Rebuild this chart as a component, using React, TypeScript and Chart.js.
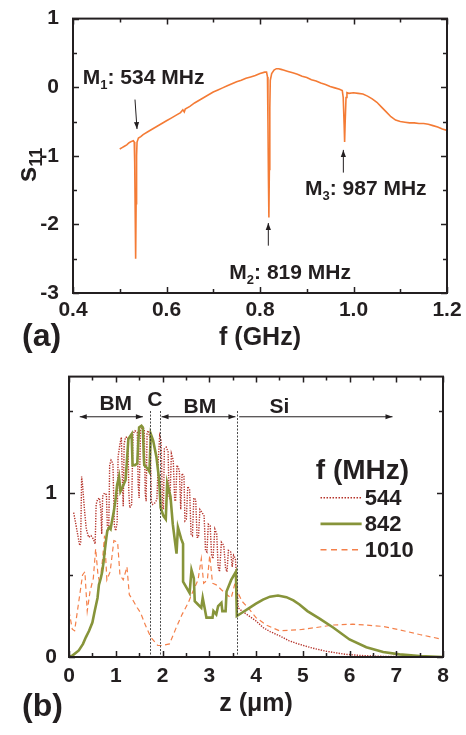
import React, { useEffect, useRef } from "react";
import { Chart, registerables } from "chart.js";
Chart.register(...registerables);

const FONT = '"Liberation Sans", Arial, Helvetica, sans-serif';
const INK = "#231f20";

// ---------- Panel (a): S11 vs f ----------
const freqA = [
  0.5, 0.505, 0.51, 0.515, 0.52, 0.525, 0.529, 0.531, 0.532, 0.533, 0.534, 0.535, 0.536, 0.537,
  0.54, 0.545, 0.55, 0.56, 0.57, 0.58, 0.59, 0.6, 0.61, 0.62, 0.63, 0.635, 0.638, 0.64, 0.65,
  0.66, 0.67, 0.68, 0.69, 0.7, 0.71, 0.72, 0.73, 0.74, 0.75, 0.76, 0.77, 0.78, 0.79, 0.8, 0.81,
  0.814, 0.816, 0.817, 0.818, 0.819, 0.82, 0.821, 0.822, 0.825, 0.83, 0.835, 0.84, 0.845, 0.85,
  0.86, 0.87, 0.88, 0.89, 0.9, 0.91, 0.92, 0.93, 0.94, 0.95, 0.96, 0.97, 0.976, 0.978, 0.98,
  0.981, 0.982, 0.984, 0.986, 0.99, 1.0, 1.01, 1.02, 1.03, 1.04, 1.05, 1.06, 1.07, 1.08, 1.09,
  1.1, 1.11, 1.12, 1.13, 1.14, 1.15, 1.16, 1.17, 1.18, 1.19, 1.2,
];
const s11A = [
  -0.9, -0.88, -0.86, -0.84, -0.81, -0.79, -0.78, -0.8, -1.1, -1.8, -2.5, -1.7, -1.0, -0.8,
  -0.74, -0.72, -0.69, -0.65, -0.61, -0.57, -0.53, -0.49, -0.45, -0.41, -0.37, -0.33, -0.36, -0.32, -0.28,
  -0.23, -0.19, -0.15, -0.11, -0.07, -0.04, -0.01, 0.02, 0.05, 0.08, 0.1, 0.13, 0.15, 0.17, 0.2, 0.22,
  0.22, 0.15, -0.5, -1.3, -1.9, -1.2, -0.3, 0.1, 0.2, 0.25, 0.27, 0.27, 0.26, 0.25,
  0.23, 0.21, 0.19, 0.16, 0.14, 0.11, 0.09, 0.06, 0.04, 0.01, -0.01, -0.03, -0.05, -0.15, -0.55,
  -0.8, -0.55, -0.15, -0.08, -0.09, -0.08, -0.09, -0.1, -0.13, -0.17, -0.22, -0.29, -0.36, -0.43, -0.48,
  -0.5, -0.51, -0.52, -0.52, -0.53, -0.53, -0.54, -0.56, -0.58, -0.61, -0.63,
];
const fMajor = [0.4, 0.6, 0.8, 1.0, 1.2];
const fMinor = [0.5, 0.7, 0.9, 1.1];
const sMajor = [-3, -2, -1, 0, 1];
const sMinor = [-2.5, -1.5, -0.5, 0.5];
const markerIdx = ["1", "2", "3"];
const markerMHz = [534, 819, 987];

// ---------- Panel (b): e_a vs z ----------
const zMajor = [0, 1, 2, 3, 4, 5, 6, 7, 8];
const zMinor = [0.5, 1.5, 2.5, 3.5, 4.5, 5.5, 6.5, 7.5];
const eMajor = [0, 1];
const eMinor = [0.5, 1.5];
const legendMHz = ["544", "842", "1010"];
const layerBounds = [1.73, 1.94, 3.59];
const layerNames = ["BM", "C", "BM", "Si"];

const z544 = [
  0.1, 0.14, 0.19, 0.23, 0.25, 0.27, 0.29, 0.33, 0.37, 0.42, 0.47, 0.52, 0.56, 0.58, 0.61, 0.65,
  0.68, 0.7, 0.72, 0.76, 0.8, 0.82, 0.85, 0.87, 0.9, 0.94, 0.97, 1.0, 1.03, 1.05, 1.09, 1.12,
  1.14, 1.16, 1.18, 1.21, 1.26, 1.28, 1.3, 1.34, 1.37, 1.41, 1.46, 1.48, 1.5, 1.53, 1.57, 1.61,
  1.63, 1.65, 1.67, 1.7, 1.74, 1.76, 1.79, 1.84, 1.88, 1.91, 1.94, 1.97, 2.0, 2.02, 2.04, 2.08,
  2.12, 2.14, 2.16, 2.19, 2.23, 2.26, 2.28, 2.31, 2.36, 2.39, 2.42, 2.46, 2.48, 2.51, 2.54, 2.58,
  2.61, 2.64, 2.67, 2.71, 2.74, 2.77, 2.8, 2.85, 2.89, 2.92, 2.95, 2.98, 3.02, 3.05, 3.08, 3.12,
  3.16, 3.19, 3.22, 3.26, 3.31, 3.35, 3.38, 3.41, 3.46, 3.49, 3.52, 3.56, 3.59, 3.62, 3.7, 3.8,
  3.9, 4.0, 4.15, 4.3, 4.5, 4.7, 4.9, 5.2, 5.5, 5.9, 6.3, 6.7, 7.2, 8.0,
];
const e544 = [
  0.88, 0.82, 0.74, 0.68, 0.7, 1.1, 1.05, 0.9, 0.78, 0.73, 0.74, 0.72, 0.69, 0.93, 0.96, 0.97,
  0.9, 0.75, 0.98, 1.0, 0.99, 0.8, 0.78, 1.17, 1.2, 1.18, 0.8, 0.77, 0.82, 1.22, 1.3, 1.34,
  1.1, 0.92, 1.3, 1.34, 1.34, 1.0, 0.91, 0.93, 1.36, 1.38, 1.37, 1.05, 0.97, 1.38, 1.4, 1.39,
  1.0, 0.95, 1.37, 1.38, 1.32, 0.95, 0.93, 0.94, 0.96, 1.2, 1.35, 1.32, 0.92, 0.9, 1.27, 1.28,
  1.25, 0.98, 0.96, 1.24, 1.2, 0.96, 0.95, 1.17, 1.14, 0.9, 1.12, 1.1, 0.83, 0.84, 1.04, 1.02,
  0.75, 0.74, 0.97, 0.96, 0.73, 0.73, 0.9, 0.88, 0.86, 0.65, 0.64, 0.81, 0.8, 0.62, 0.6, 0.78,
  0.75, 0.55, 0.52, 0.7, 0.68, 0.54, 0.52, 0.65, 0.64, 0.55, 0.62, 0.6, 0.45, 0.3, 0.28, 0.26,
  0.24, 0.22, 0.18, 0.155, 0.13, 0.1, 0.08, 0.055, 0.035, 0.017, 0.008, 0.004, 0.002, 0.0,
];

const z842 = [
  0.0, 0.08, 0.21, 0.3, 0.36, 0.43, 0.5, 0.55, 0.61, 0.64, 0.68, 0.71, 0.74, 0.77, 0.8, 0.82,
  0.86, 0.89, 0.92, 0.96, 1.0, 1.03, 1.07, 1.1, 1.15, 1.21, 1.24, 1.27, 1.34, 1.36, 1.41, 1.46,
  1.48, 1.5, 1.55, 1.58, 1.6, 1.61, 1.68, 1.72, 1.75, 1.8, 1.87, 1.92, 1.94, 1.96, 2.02, 2.07,
  2.1, 2.17, 2.22, 2.3, 2.33, 2.4, 2.44, 2.44, 2.52, 2.58, 2.62, 2.67, 2.69, 2.76, 2.83, 2.86,
  2.9, 2.94, 3.0, 3.07, 3.09, 3.15, 3.19, 3.26, 3.28, 3.35, 3.37, 3.47, 3.57, 3.59, 3.7, 3.86,
  4.0, 4.15, 4.3, 4.47, 4.65, 4.8, 4.93, 5.1, 5.36, 5.65, 6.0, 6.36, 6.72, 7.07, 7.5, 8.0,
];
const e842 = [
  0.0, 0.01, 0.04, 0.08, 0.12, 0.16, 0.21, 0.28, 0.36, 0.44, 0.48, 0.52, 0.58, 0.66, 0.73, 0.77,
  0.79, 0.78, 0.83, 0.89, 0.97, 1.05, 1.1, 1.01, 1.04, 1.08, 1.2, 1.33, 1.36, 1.17, 1.17, 1.18,
  1.3, 1.4, 1.41, 1.4, 1.22, 1.17, 1.15, 1.13, 1.36, 1.32, 1.22, 1.1, 1.02, 0.91, 0.86, 0.84,
  1.06, 0.98, 0.81, 0.63, 0.79, 0.72, 0.69, 0.46, 0.42, 0.39, 0.53, 0.48, 0.34, 0.32, 0.3, 0.36,
  0.3, 0.24, 0.24, 0.24, 0.28, 0.26, 0.31, 0.33, 0.28, 0.28, 0.4, 0.47, 0.52, 0.25, 0.27, 0.3,
  0.325, 0.35, 0.368, 0.375, 0.365, 0.345, 0.32, 0.28, 0.234, 0.18, 0.107, 0.06, 0.03, 0.016, 0.006, 0.0,
];

const z1010 = [
  0.0, 0.07, 0.12, 0.22, 0.29, 0.34, 0.39, 0.45, 0.52, 0.57, 0.62, 0.66, 0.72, 0.76, 0.81, 0.88,
  0.96, 1.04, 1.09, 1.16, 1.24, 1.29, 1.38, 1.46, 1.53, 1.64, 1.75, 1.9, 2.0, 2.15, 2.28, 2.42,
  2.55, 2.65, 2.76, 2.83, 2.88, 2.96, 3.01, 3.07, 3.15, 3.26, 3.38, 3.47, 3.55, 3.6, 3.7, 3.86,
  4.0, 4.22, 4.5, 4.93, 5.29, 5.65, 6.07, 6.36, 6.72, 7.07, 7.5, 8.0,
];
const e1010 = [
  0.28, 0.17, 0.16, 0.36, 0.5, 0.52, 0.28, 0.4, 0.48, 0.66, 0.5, 0.45, 0.6, 0.74, 0.47, 0.52,
  0.71, 0.7, 0.5, 0.47, 0.55, 0.38, 0.34, 0.3, 0.27, 0.19, 0.12, 0.07, 0.07, 0.08, 0.17, 0.26,
  0.33, 0.4, 0.47, 0.6, 0.45, 0.47, 0.62, 0.45, 0.44, 0.41, 0.38, 0.36, 0.45, 0.4, 0.34, 0.29,
  0.24, 0.195, 0.16, 0.166, 0.18, 0.195, 0.2, 0.195, 0.186, 0.166, 0.137, 0.107,
];

const COLOR_A = "#f47b35";
const COLOR_544 = "#b5332a";
const COLOR_842 = "#87943a";
const COLOR_1010 = "#f4804a";

const pts = (xs: number[], ys: number[]) => xs.map((x, i) => ({ x, y: ys[i] }));

type Part = { t: string; size: number; dy?: number };
function drawRich(ctx: CanvasRenderingContext2D, x: number, y: number, parts: Part[], align: "left" | "center") {
  let w = 0;
  for (const p of parts) {
    ctx.font = `bold ${p.size}px ${FONT}`;
    w += ctx.measureText(p.t).width;
  }
  let cx = align === "center" ? x - w / 2 : x;
  ctx.textAlign = "left";
  for (const p of parts) {
    ctx.font = `bold ${p.size}px ${FONT}`;
    ctx.fillText(p.t, cx, y + (p.dy || 0));
    cx += ctx.measureText(p.t).width;
  }
}

function arrow(ctx: CanvasRenderingContext2D, x1: number, y1: number, x2: number, y2: number, startHead: boolean, endHead: boolean) {
  ctx.strokeStyle = INK;
  ctx.fillStyle = INK;
  ctx.lineWidth = 1;
  ctx.setLineDash([]);
  ctx.beginPath();
  ctx.moveTo(x1, y1);
  ctx.lineTo(x2, y2);
  ctx.stroke();
  const head = (tx: number, ty: number, fx: number, fy: number) => {
    const a = Math.atan2(ty - fy, tx - fx);
    const L = 7, W = 2.6;
    ctx.beginPath();
    ctx.moveTo(tx, ty);
    ctx.lineTo(tx - L * Math.cos(a) + W * Math.sin(a), ty - L * Math.sin(a) - W * Math.cos(a));
    ctx.lineTo(tx - L * Math.cos(a) - W * Math.sin(a), ty - L * Math.sin(a) + W * Math.cos(a));
    ctx.closePath();
    ctx.fill();
  };
  if (endHead) head(x2, y2, x1, y1);
  if (startHead) head(x1, y1, x2, y2);
}

function drawFrame(chart: any, xMaj: number[], xMin: number[], yMaj: number[], yMin: number[]) {
  const { ctx, chartArea: ca, scales } = chart;
  const xs = scales.x, ys = scales.y;
  ctx.save();
  ctx.strokeStyle = INK;
  ctx.lineWidth = 1.5;
  ctx.setLineDash([]);
  ctx.beginPath();
  const tx = (v: number, len: number) => {
    const p = Math.round(xs.getPixelForValue(v)) + 0.5;
    ctx.moveTo(p, ca.bottom);
    ctx.lineTo(p, ca.bottom - len);
    ctx.moveTo(p, ca.top);
    ctx.lineTo(p, ca.top + len);
  };
  const ty = (v: number, len: number) => {
    const p = Math.round(ys.getPixelForValue(v)) + 0.5;
    ctx.moveTo(ca.left, p);
    ctx.lineTo(ca.left + len, p);
    ctx.moveTo(ca.right, p);
    ctx.lineTo(ca.right - len, p);
  };
  xMaj.forEach((v) => tx(v, 6));
  xMin.forEach((v) => tx(v, 4));
  yMaj.forEach((v) => ty(v, 6));
  yMin.forEach((v) => ty(v, 4));
  ctx.stroke();
  ctx.lineWidth = 2;
  ctx.strokeRect(ca.left, ca.top, ca.right - ca.left, ca.bottom - ca.top);
  ctx.restore();
}

const tickFont = { family: FONT, size: 21, weight: "bold" as const };
const titleFont = { family: FONT, size: 25, weight: "bold" as const };

const panelAPlugin = {
  id: "panelA",
  afterDraw(chart: any) {
    const { ctx } = chart;
    const xs = chart.scales.x, ys = chart.scales.y;
    drawFrame(chart, fMajor, fMinor, sMajor, sMinor);
    ctx.save();
    ctx.fillStyle = INK;
    ctx.textBaseline = "alphabetic";
    const labelPos = [
      [0.421, 0.05],
      [0.7344, -2.789],
      [0.8963, -1.566],
    ];
    markerIdx.forEach((m, i) => {
      ctx.fillStyle = INK;
      drawRich(
        ctx,
        xs.getPixelForValue(labelPos[i][0]),
        ys.getPixelForValue(labelPos[i][1]),
        [
          { t: "M", size: 21 },
          { t: m, size: 13, dy: 5 },
          { t: `: ${markerMHz[i]} MHz`, size: 21 },
        ],
        "left"
      );
    });
    arrow(ctx, xs.getPixelForValue(0.5326), ys.getPixelForValue(-0.18), xs.getPixelForValue(0.5369), ys.getPixelForValue(-0.61), false, true);
    arrow(ctx, xs.getPixelForValue(0.8178), ys.getPixelForValue(-2.31), xs.getPixelForValue(0.8178), ys.getPixelForValue(-1.98), false, true);
    arrow(ctx, xs.getPixelForValue(0.9783), ys.getPixelForValue(-1.245), xs.getPixelForValue(0.9783), ys.getPixelForValue(-0.914), false, true);
    ctx.fillStyle = INK;
    ctx.save();
    ctx.translate(36, 165);
    ctx.rotate(-Math.PI / 2);
    ctx.textBaseline = "alphabetic";
    drawRich(ctx, 0, 0, [{ t: "s", size: 28 }, { t: "11", size: 18, dy: 6 }], "center");
    ctx.restore();
    ctx.textBaseline = "middle";
    ctx.font = `bold 32px ${FONT}`;
    ctx.textAlign = "left";
    ctx.fillText("(a)", 22, 337);
    ctx.restore();
  },
};

const panelBPlugin = {
  id: "panelB",
  afterDatasetsDraw(chart: any) {
    const { ctx, chartArea: ca } = chart;
    const xs = chart.scales.x, ys = chart.scales.y;
    ctx.save();
    ctx.strokeStyle = "#333";
    ctx.lineWidth = 0.9;
    ctx.setLineDash([2, 1.5]);
    layerBounds.forEach((b) => {
      const p = Math.round(xs.getPixelForValue(b)) + 0.5;
      ctx.beginPath();
      ctx.moveTo(p, ys.getPixelForValue(1.5));
      ctx.lineTo(p, ca.bottom);
      ctx.stroke();
    });
    ctx.restore();
  },
  afterDraw(chart: any) {
    const { ctx } = chart;
    const xs = chart.scales.x, ys = chart.scales.y;
    drawFrame(chart, zMajor, zMinor, eMajor, eMinor);
    ctx.save();
    ctx.fillStyle = INK;
    const ay = ys.getPixelForValue(1.465);
    arrow(ctx, xs.getPixelForValue(0.23), ay, xs.getPixelForValue(1.58), ay, true, true);
    arrow(ctx, xs.getPixelForValue(1.98), ay, xs.getPixelForValue(3.56), ay, true, true);
    arrow(ctx, xs.getPixelForValue(3.64), ay, xs.getPixelForValue(6.92), ay, false, true);
    const namePos = [
      [1.0, 1.504],
      [1.835, 1.533],
      [2.8, 1.486],
      [4.5, 1.49],
    ];
    ctx.fillStyle = INK;
    ctx.textBaseline = "alphabetic";
    layerNames.forEach((n, i) => {
      drawRich(ctx, xs.getPixelForValue(namePos[i][0]), ys.getPixelForValue(namePos[i][1]), [{ t: n, size: 21 }], "center");
    });
    ctx.textBaseline = "middle";
    drawRich(ctx, xs.getPixelForValue(5.28), ys.getPixelForValue(1.135), [{ t: "f (MHz)", size: 28 }], "left");
    const rowsV = [0.971, 0.812, 0.654];
    const styles = [
      { c: COLOR_544, w: 1.4, d: [1.5, 1.5], end: 6.26 },
      { c: COLOR_842, w: 2.6, d: [] as number[], end: 6.26 },
      { c: COLOR_1010, w: 1.3, d: [6, 4.5], end: 6.2 },
    ];
    legendMHz.forEach((t, i) => {
      const y = ys.getPixelForValue(rowsV[i]);
      ctx.strokeStyle = styles[i].c;
      ctx.lineWidth = styles[i].w;
      ctx.setLineDash(styles[i].d);
      ctx.beginPath();
      ctx.moveTo(xs.getPixelForValue(5.38), y);
      ctx.lineTo(xs.getPixelForValue(styles[i].end), y);
      ctx.stroke();
      ctx.setLineDash([]);
      ctx.fillStyle = INK;
      drawRich(ctx, xs.getPixelForValue(6.325), y + 1, [{ t, size: 22 }], "left");
    });
    ctx.save();
    ctx.translate(37, 538);
    ctx.rotate(-Math.PI / 2);
    ctx.textBaseline = "alphabetic";
    ctx.fillStyle = INK;
    drawRich(
      ctx,
      0,
      0,
      [
        { t: "e", size: 26 },
        { t: "a", size: 16, dy: 6 },
        { t: " (mJ/m", size: 25 },
        { t: "2", size: 16, dy: -11 },
        { t: ")", size: 25 },
      ],
      "center"
    );
    ctx.restore();
    ctx.textBaseline = "middle";
    ctx.font = `bold 32px ${FONT}`;
    ctx.textAlign = "left";
    ctx.fillText("(b)", 22, 347);
    ctx.restore();
  },
};

function makeA(canvas: HTMLCanvasElement) {
  return new Chart(canvas, {
    type: "line",
    data: {
      datasets: [
        {
          label: "S11",
          data: pts(freqA, s11A),
          borderColor: COLOR_A,
          borderWidth: 1.6,
          pointRadius: 0,
          tension: 0,
        },
      ],
    },
    options: {
      animation: false,
      responsive: false,
      devicePixelRatio: 1,
      layout: { padding: { top: 15, right: 19, left: 0, bottom: 0 } },
      plugins: { legend: { display: false }, tooltip: { enabled: false } },
      scales: {
        x: {
          type: "linear",
          min: 0.4,
          max: 1.2,
          grid: { display: false },
          border: { display: false },
          ticks: {
            stepSize: 0.2,
            includeBounds: false,
            autoSkip: false,
            maxRotation: 0,
            padding: -3,
            color: INK,
            font: tickFont,
            callback: (v: any) => Number(v).toFixed(1),
          },
          title: { display: true, text: "f (GHz)", color: INK, font: titleFont, padding: { top: 0, bottom: 7 } },
          afterFit: (s: any) => {
            s.height = 67;
          },
        },
        y: {
          type: "linear",
          min: -3,
          max: 1,
          grid: { display: false },
          border: { display: false },
          ticks: {
            stepSize: 1,
            includeBounds: false,
            autoSkip: false,
            padding: 6,
            color: INK,
            font: tickFont,
            callback: (v: any) => String(v),
          },
          afterFit: (s: any) => {
            s.width = 73;
          },
        },
      },
    } as any,
    plugins: [panelAPlugin],
  });
}

function makeB(canvas: HTMLCanvasElement) {
  return new Chart(canvas, {
    type: "line",
    data: {
      datasets: [
        {
          label: "842",
          data: pts(z842, e842),
          borderColor: COLOR_842,
          borderWidth: 2.6,
          pointRadius: 0,
          tension: 0,
        },
        {
          label: "1010",
          data: pts(z1010, e1010),
          borderColor: COLOR_1010,
          borderWidth: 1.2,
          borderDash: [5, 3.5],
          pointRadius: 0,
          tension: 0,
        },
        {
          label: "544",
          data: pts(z544, e544),
          borderColor: COLOR_544,
          borderWidth: 1.4,
          borderDash: [1.3, 1.3],
          pointRadius: 0,
          tension: 0,
        },
      ],
    },
    options: {
      animation: false,
      responsive: false,
      devicePixelRatio: 1,
      layout: { padding: { top: 5, right: 23, left: 0, bottom: 0 } },
      plugins: { legend: { display: false }, tooltip: { enabled: false } },
      scales: {
        x: {
          type: "linear",
          min: 0,
          max: 8,
          grid: { display: false },
          border: { display: false },
          ticks: {
            stepSize: 1,
            includeBounds: false,
            autoSkip: false,
            maxRotation: 0,
            padding: -1,
            color: INK,
            font: tickFont,
            callback: (v: any) => String(v),
          },
          title: { display: true, text: "z (μm)", color: INK, font: titleFont, padding: { top: 0, bottom: 16 } },
          afterFit: (s: any) => {
            s.height = 78;
          },
        },
        y: {
          type: "linear",
          min: 0,
          max: 1.71,
          grid: { display: false },
          border: { display: false },
          ticks: {
            stepSize: 0.5,
            includeBounds: false,
            autoSkip: false,
            padding: 4,
            color: INK,
            font: tickFont,
            callback: (v: any) => (Number.isInteger(Number(v)) ? String(v) : ""),
          },
          afterFit: (s: any) => {
            s.width = 69;
          },
        },
      },
    } as any,
    plugins: [panelBPlugin],
  });
}

export default function App() {
  const refA = useRef<HTMLCanvasElement | null>(null);
  const refB = useRef<HTMLCanvasElement | null>(null);
  useEffect(() => {
    const a = makeA(refA.current as HTMLCanvasElement);
    const b = makeB(refB.current as HTMLCanvasElement);
    return () => {
      a.destroy();
      b.destroy();
    };
  }, []);
  return (
    <div style={{ position: "absolute", left: 0, top: 0, width: 466, height: 735, background: "#fff" }}>
      <canvas ref={refA} width={466} height={360} style={{ display: "block", width: 466, height: 360 }} />
      <canvas ref={refB} width={466} height={375} style={{ display: "block", width: 466, height: 375 }} />
    </div>
  );
}
